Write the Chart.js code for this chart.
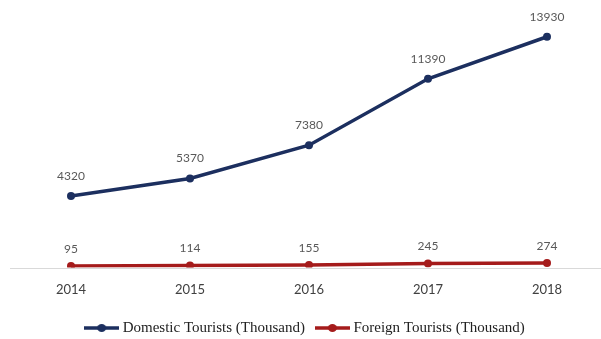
<!DOCTYPE html>
<html>
<head>
<meta charset="utf-8">
<script src="https://cdn.jsdelivr.net/npm/chart.js@4/dist/chart.umd.min.js"></script>
<style>
html,body{margin:0;padding:0;background:#fff;overflow:hidden;}
#wrap{position:relative;width:601px;height:339px;}
</style>
</head>
<body>
<div id="wrap"><canvas id="c" width="601" height="339"></canvas></div>
<script>
const years = ['2014', '2015', '2016', '2017', '2018'];
const domesticTourists = [4320, 5370, 7380, 11390, 13930];
const foreignTourists = [95, 114, 155, 245, 274];
const seriesNames = ['Domestic Tourists (Thousand)', 'Foreign Tourists (Thousand)'];

const navy = '#1c2f5f';
const red = '#a51b1b';

function marker(color) {
  const c = document.createElement('canvas');
  c.width = 35; c.height = 12;
  const g = c.getContext('2d');
  g.strokeStyle = color; g.lineWidth = 3.5;
  g.beginPath(); g.moveTo(0, 6); g.lineTo(35, 6); g.stroke();
  g.fillStyle = color;
  g.beginPath(); g.ellipse(17.5, 6, 4.5, 4, 0, 0, Math.PI * 2); g.fill();
  return c;
}

const baseline = {
  id: 'baseline',
  beforeDatasetsDraw(chart) {
    const y = Math.round(chart.scales.y.getPixelForValue(0)) + 0.5;
    const ctx = chart.ctx;
    ctx.save();
    ctx.strokeStyle = '#d9d9d9';
    ctx.lineWidth = 1;
    ctx.beginPath(); ctx.moveTo(10, y); ctx.lineTo(chart.width, y); ctx.stroke();
    ctx.restore();
  }
};

const valueLabels = {
  id: 'valueLabels',
  afterDatasetsDraw(chart) {
    const ctx = chart.ctx;
    ctx.save();
    ctx.font = '12px Lato';
    ctx.fillStyle = '#595959';
    ctx.textAlign = 'center';
    ctx.textBaseline = 'middle';
    chart.data.datasets.forEach((ds, i) => {
      const meta = chart.getDatasetMeta(i);
      meta.data.forEach((pt, j) => {
        ctx.fillText(String(ds.data[j]), pt.x, pt.y - (i === 0 ? 20 : 17));
      });
    });
    ctx.restore();
  }
};

new Chart(document.getElementById('c'), {
  type: 'line',
  data: {
    labels: years,
    datasets: [
      {
        label: seriesNames[0], data: domesticTourists,
        borderColor: navy, backgroundColor: navy, borderWidth: 3.5,
        pointRadius: 4, pointBackgroundColor: navy, pointBorderWidth: 0,
        pointStyle: 'circle', tension: 0
      },
      {
        label: seriesNames[1], data: foreignTourists,
        borderColor: red, backgroundColor: red, borderWidth: 3.5,
        pointRadius: 4, pointBackgroundColor: red, pointBorderWidth: 0,
        pointStyle: 'circle', tension: 0
      }
    ]
  },
  options: {
    responsive: false,
    animation: false,
    layout: { padding: { left: 12, right: 0, top: 19, bottom: -6.5 } },
    scales: {
      x: {
        offset: false,
        grid: { display: false, drawTicks: false },
        border: { display: false },
        ticks: { font: { family: 'Lato', size: 13 }, color: '#404040', padding: 14.7 },
        afterFit(scale) { scale.height = 39; }
      },
      y: {
        display: true,
        min: 0, max: 15000,
        grid: { display: false }, border: { display: false },
        ticks: { display: false },
        afterFit(scale) { scale.width = 59; }
      },
      yRight: {
        display: true, position: 'right',
        min: 0, max: 1,
        grid: { display: false }, border: { display: false },
        ticks: { display: false },
        afterFit(scale) { scale.width = 54; }
      }
    },
    plugins: {
      legend: {
        position: 'bottom',
        labels: {
          usePointStyle: true,
          pointStyleWidth: 27,
          padding: 14,
          font: { family: 'Liberation Serif', size: 15 },
          color: '#222',
          generateLabels(chart) {
            return chart.data.datasets.map((ds, i) => ({
              text: ds.label,
              pointStyle: marker(ds.borderColor),
              fillStyle: ds.borderColor,
              strokeStyle: ds.borderColor,
              lineWidth: 0,
              hidden: false,
              datasetIndex: i,
              fontColor: '#222'
            }));
          }
        }
      },
      tooltip: { enabled: false }
    }
  },
  plugins: [baseline, valueLabels]
});
</script>
</body>
</html>
